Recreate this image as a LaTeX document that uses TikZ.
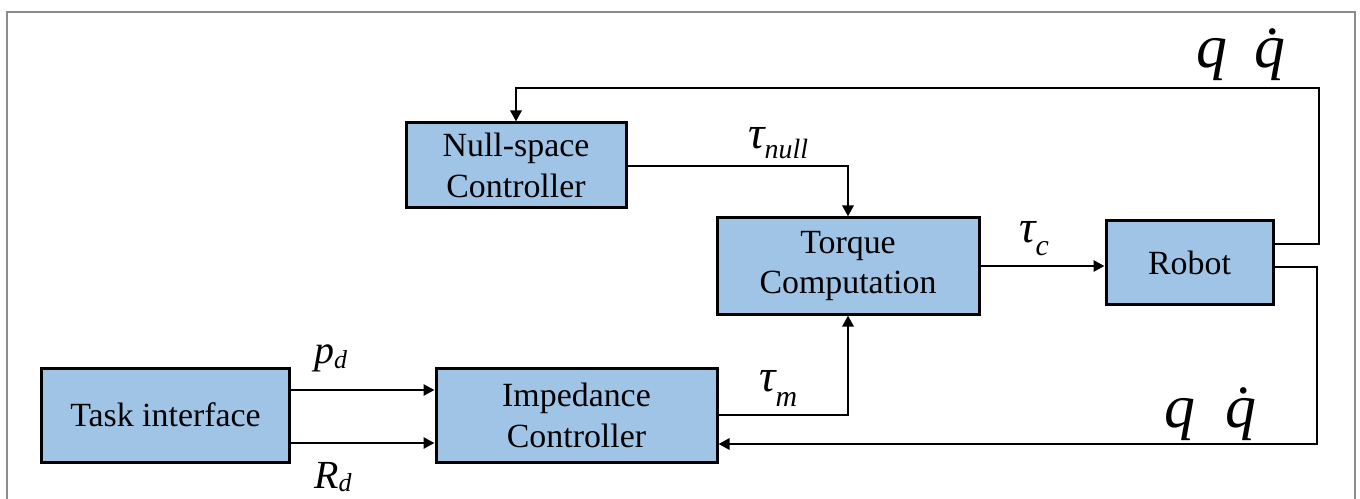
\documentclass[tikz,border=0pt]{standalone}
\usepackage{fontspec}
\setmainfont{Liberation Serif}
\usetikzlibrary{arrows.meta}
\definecolor{boxblue}{RGB}{160,196,230}
\definecolor{framegray}{RGB}{140,140,140}
\begin{document}
\begin{tikzpicture}[x=1bp,y=-1bp,
  blk/.style={draw=black,line width=3bp,fill=boxblue,inner sep=0pt,align=center,
    font=\fontsize{34}{41}\selectfont},
  conn/.style={line width=2.8bp,-{Triangle[length=11bp,width=11bp]}},
  lbl/.style={inner sep=0pt,anchor=base west},
  big/.style={font=\fontsize{46}{46}\selectfont\itshape},
  mid/.style={font=\fontsize{40}{40}\selectfont\itshape},
  huge/.style={font=\fontsize{62}{62}\selectfont\itshape}]
\useasboundingbox (0,0) rectangle (1360,499);
\begin{scope}
\clip (0,0) rectangle (1360,499);
\draw[framegray,line width=1.5bp] (7,520) -- (7,12) -- (1355,12) -- (1355,520);

% blocks
\node[blk,minimum width=220bp,minimum height=85bp] (null) at (516,165.5) {Null-space\\Controller};
\node[blk,minimum width=262bp,minimum height=96bp] (torque) at (848,266) {Torque\\Computation};
\node[blk,minimum width=167bp,minimum height=83bp] (robot) at (1189.5,262.5) {Robot};
\node[blk,minimum width=247bp,minimum height=94bp] (task) at (165.5,415) {Task interface};
\node[blk,minimum width=281bp,minimum height=94bp] (imp) at (576.5,415) {Impedance\\Controller};

% connectors
\draw[conn] (robot.east |- 0,244) -| (1319,88) -| (null.north);
\draw[conn] (robot.east |- 0,267) -| (1317,444) -- (imp.east |- 0,444);
\draw[conn] (null.east |- 0,166) -| (torque.north);
\draw[conn] (imp.east) -| (torque.south);
\draw[conn] (torque.east |- 0,266) -- (robot.west |- 0,266);
\draw[conn] (task.east |- 0,390) -- (imp.west |- 0,390);
\draw[conn] (task.east |- 0,443) -- (imp.west |- 0,443);

% labels
\node[lbl,big] (tnull) at (748,149) {τ\raisebox{-10bp}{\fontsize{28}{28}\selectfont null}};
\node[lbl,big] (tc) at (1019,243) {τ\raisebox{-13bp}{\fontsize{30}{30}\selectfont c}};
\node[lbl,big] (tm) at (759,391) {τ\raisebox{-15bp}{\fontsize{30}{30}\selectfont m}};
\node[lbl,mid] (pd) at (314,363) {p\raisebox{-5bp}{\fontsize{26}{26}\selectfont d}};
\node[lbl,mid] (rd) at (314,488) {R\raisebox{-3bp}{\fontsize{26}{26}\selectfont d}};
\node[lbl,huge] (q1) at (1196,68) {q};
\node[lbl,huge] (qd1) at (1254,68) {\.{q}};
\node[lbl,huge] (q2) at (1164,427) {q};
\node[lbl,huge] (qd2) at (1225,427) {\.{q}};
\end{scope}
\end{tikzpicture}
\end{document}
